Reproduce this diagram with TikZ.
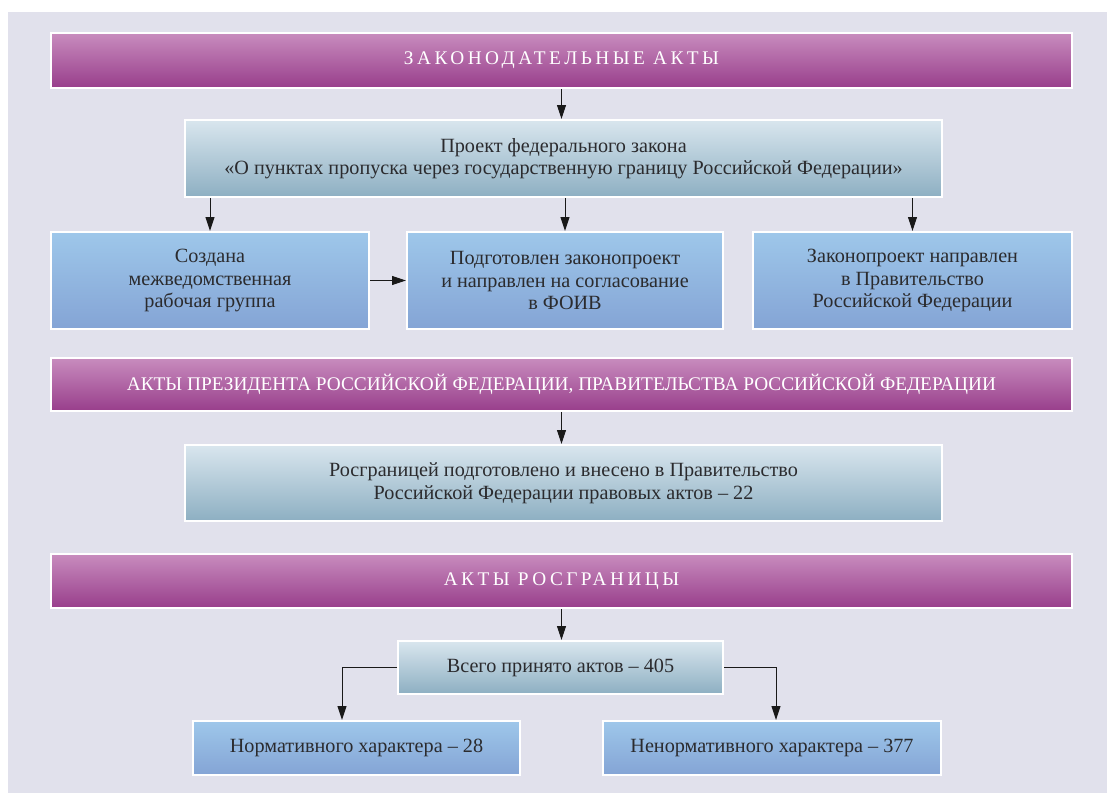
\documentclass[tikz,border=0pt]{standalone}
\usepackage{fontspec}
\setmainfont{Liberation Serif}
\usetikzlibrary{arrows.meta,calc}
\definecolor{panel}{HTML}{E1E1EC}
\definecolor{hdrtop}{HTML}{C88CBE}
\definecolor{hdrbot}{HTML}{983E8B}
\definecolor{gtop}{HTML}{D9E6EE}
\definecolor{gbot}{HTML}{8DAFC2}
\definecolor{btop}{HTML}{9EC7EA}
\definecolor{bbot}{HTML}{84A4D5}
\definecolor{txt}{HTML}{2B2B2E}
\tikzset{
  hdr/.style={draw=white, line width=2pt, top color=hdrtop, bottom color=hdrbot,
    text=white, font=\fontsize{19.3}{22}\selectfont, inner sep=0pt},
  greybox/.style={draw=white, line width=2pt, top color=gtop, bottom color=gbot,
    text=txt, align=center, font=\fontsize{20.2}{22.5}\selectfont, inner sep=0pt},
  bluebox/.style={draw=white, line width=2pt, top color=btop, bottom color=bbot,
    text=txt, align=center, font=\fontsize{20.2}{22.5}\selectfont, inner sep=0pt},
  arr/.style={draw=black!90, line width=1pt, -{Triangle[length=14pt,width=9pt]}},
}
\begin{document}
\begin{tikzpicture}[x=1pt,y=-1pt]
\path[use as bounding box] (0,0) rectangle (1107,793);
\fill[panel] (8,12) rectangle (1107,793);

\node[hdr, minimum width=1021pt, minimum height=55pt] (h1) at (561.5,60.5)
  {\addfontfeatures{LetterSpace=18}ЗАКОНОДАТЕЛЬНЫЕ АКТЫ};
\node[greybox, minimum width=757pt, minimum height=77pt] (b2) at (563.5,158.5)
  {Проект федерального закона\\«О пунктах пропуска через государственную границу Российской Федерации»};
\node[bluebox, minimum width=318pt, minimum height=97pt] (b3a) at (210,280.5)
  {Создана\\межведомственная\\рабочая группа};
\node[bluebox, minimum width=316pt, minimum height=97pt] (b3b) at (565,280.5)
  {Подготовлен законопроект\\и направлен на согласование\\в ФОИВ};
\node[bluebox, minimum width=319pt, minimum height=97pt] (b3c) at (912.5,280.5)
  {Законопроект направлен\\в Правительство\\Российской Федерации};
\node[hdr, minimum width=1021pt, minimum height=53pt] (h2) at (561.5,384.5)
  {АКТЫ ПРЕЗИДЕНТА РОССИЙСКОЙ ФЕДЕРАЦИИ, ПРАВИТЕЛЬСТВА РОССИЙСКОЙ ФЕДЕРАЦИИ};
\node[greybox, minimum width=757pt, minimum height=76pt] (b5) at (563.5,483)
  {Росграницей подготовлено и внесено в Правительство\\Российской Федерации правовых актов – 22};
\node[hdr, minimum width=1021pt, minimum height=54pt] (h3) at (561.5,581)
  {\addfontfeatures{LetterSpace=18}АКТЫ РОСГРАНИЦЫ};
\node[greybox, minimum width=325pt, minimum height=53pt] (b7) at (560.5,667.5)
  {Всего принято актов – 405};
\node[bluebox, minimum width=327pt, minimum height=54pt] (b8a) at (356.5,748)
  {Нормативного характера – 28};
\node[bluebox, minimum width=338pt, minimum height=54pt] (b8b) at (772,748)
  {Ненормативного характера – 377};

\coordinate (lc) at (342,667.5);
\coordinate (rc) at (776,667.5);

\draw[arr] (h1.south) -- (h1.south |- b2.north);
\draw[arr] (b3a.north |- b2.south) -- (b3a.north);
\draw[arr] (b3b.north |- b2.south) -- (b3b.north);
\draw[arr] (b3c.north |- b2.south) -- (b3c.north);
\draw[arr] (b3a.east) -- (b3b.west);
\draw[arr] (h2.south) -- (h2.south |- b5.north);
\draw[arr] (h3.south) -- (h3.south |- b7.north);
\draw[arr] (b7.west) -- (lc) -- (lc |- b8a.north);
\draw[arr] (b7.east) -- (rc) -- (rc |- b8b.north);
\end{tikzpicture}
\end{document}
